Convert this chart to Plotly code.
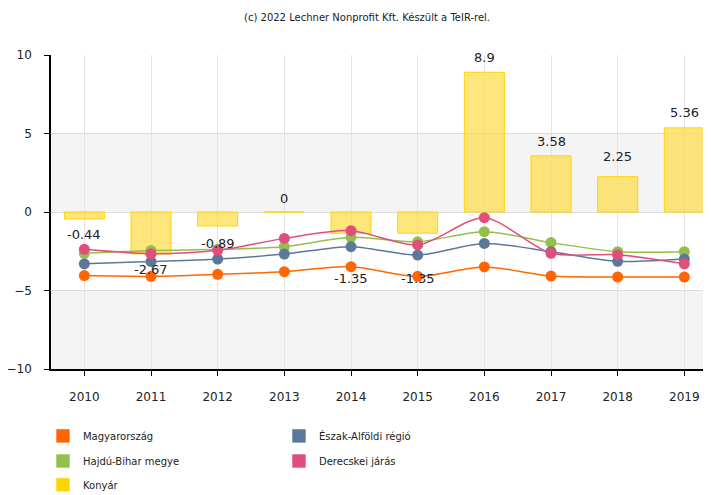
import plotly.graph_objects as go

years = ["2010", "2011", "2012", "2013", "2014", "2015", "2016", "2017", "2018", "2019"]
konyar = [-0.44, -2.67, -0.89, 0, -1.35, -1.35, 8.9, 3.58, 2.25, 5.36]
magyarorszag = [-4.05, -4.1, -3.97, -3.8, -3.48, -4.1, -3.5, -4.08, -4.14, -4.14]
eszak_alfold = [-3.3, -3.16, -3.0, -2.68, -2.21, -2.74, -2.0, -2.53, -3.14, -3.0]
hajdu_bihar = [-2.63, -2.45, -2.38, -2.21, -1.61, -1.9, -1.25, -1.95, -2.53, -2.53]
derecske = [-2.38, -2.66, -2.44, -1.68, -1.19, -2.1, -0.36, -2.63, -2.72, -3.3]
label_shift = [-16, -16, -18, 14, -45, -45, 15, 14, 20, 15]

series = [
    ("Magyarország", magyarorszag, "#ff6600"),
    ("Észak-Alföldi régió", eszak_alfold, "#5b7898"),
    ("Hajdú-Bihar megye", hajdu_bihar, "#92c04a"),
    ("Derecskei járás", derecske, "#e04f7b"),
]
konyar_color = "#ffd400"

x_idx = list(range(len(years)))
fig = go.Figure()

fig.add_trace(go.Bar(
    x=x_idx, y=konyar, width=0.6, showlegend=False, name="Konyár",
    marker=dict(color="rgba(253,222,82,0.75)", line=dict(color=konyar_color, width=1)),
))

for name, vals, col in [series[0], series[2], series[1], series[3]]:
    fig.add_trace(go.Scatter(
        x=x_idx, y=vals, mode="lines+markers", name=name, showlegend=False,
        line=dict(color=col, width=1.5, shape="spline", smoothing=0.8),
        marker=dict(color=col, size=11),
    ))

# legend entries (square swatches), one legend per row
legend_rows = [
    [series[0], series[1]],
    [series[2], series[3]],
    [("Konyár", None, konyar_color)],
]
legend_keys = ["legend", "legend2", "legend3"]
for key, row in zip(legend_keys, legend_rows):
    for name, _, col in row:
        fig.add_trace(go.Scatter(
            x=[None], y=[None], mode="markers", name=name, legend=key,
            marker=dict(color=col, size=14, symbol="square", line=dict(color="rgba(255,255,255,0.6)", width=1)),
        ))

for i, v in enumerate(konyar):
    fig.add_annotation(x=i, y=v, text=f"{v:g}", showarrow=False, yshift=label_shift[i],
                       font=dict(family="DejaVu Sans", size=13, color="#222"))

# alternating background bands
for y0, y1 in [(0, 5), (-10, -5)]:
    fig.add_shape(type="rect", xref="paper", x0=0, x1=1, yref="y", y0=y0, y1=y1,
                  fillcolor="#f4f4f4", line=dict(width=0), layer="below")

legend_common = dict(orientation="h", xanchor="left", yanchor="middle", x=-0.012,
                     entrywidth=191, entrywidthmode="pixels", font=dict(size=10, color="#222"),
                     itemsizing="trace", bgcolor="rgba(0,0,0,0)")
legend_y = [-0.213, -0.293, -0.369]

fig.update_layout(
    width=711, height=495,
    margin=dict(l=43, r=0, t=47, b=134),
    plot_bgcolor="white", paper_bgcolor="white",
    font=dict(family="DejaVu Sans", size=11, color="#222"),
    title=dict(text="(c) 2022 Lechner Nonprofit Kft. Készült a TeIR-rel.", x=0.505, xanchor="center",
               y=0.981, yanchor="middle", font=dict(size=10, color="#222")),
    legend=dict(**legend_common, y=legend_y[0]),
    legend2=dict(**legend_common, y=legend_y[1]),
    legend3=dict(**legend_common, y=legend_y[2]),
)
fig.update_xaxes(
    range=[-0.5, 9.52], tickmode="array", tickvals=x_idx, ticktext=years,
    showgrid=True, gridcolor="#e4e4e4", showline=True, linecolor="#000", linewidth=1.5,
    ticks="outside", ticklen=5, tickcolor="#000", tickfont=dict(size=12), zeroline=False,
    ticklabelstandoff=11,
)
fig.update_yaxes(
    range=[-10, 10], tickvals=[-10, -5, 0, 5, 10], showgrid=True, gridcolor="#dcdcdc",
    showline=True, linecolor="#000", linewidth=1.5, ticks="outside", ticklen=5, tickcolor="#000",
    tickfont=dict(size=12), zeroline=False, ticklabelstandoff=10,
)
fig.write_html("out.html")
